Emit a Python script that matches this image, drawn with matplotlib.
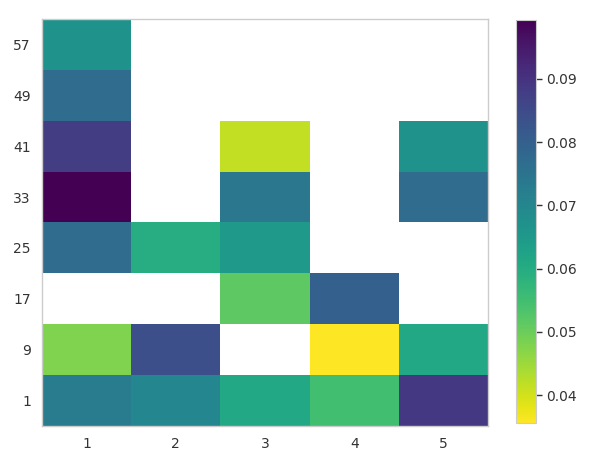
import numpy as np
import matplotlib
matplotlib.use("Agg")
import matplotlib.pyplot as plt

x_labels = [1, 2, 3, 4, 5]
y_labels = [1, 9, 17, 25, 33, 41, 49, 57]
nan = np.nan
# rows correspond to y_labels (bottom to top), columns to x_labels
values = [
    [0.073, 0.070, 0.061, 0.055, 0.089],   # 1
    [0.048, 0.084, nan,   0.0356, 0.061],  # 9
    [nan,   nan,   0.0515, 0.080, nan],    # 17
    [0.077, 0.0595, 0.065, nan,  nan],     # 25
    [0.0993, nan,  0.074, nan,   0.077],   # 33
    [0.088, nan,   0.0415, nan,  0.067],   # 41
    [0.077, nan,   nan,   nan,   nan],     # 49
    [0.067, nan,   nan,   nan,   nan],     # 57
]

Z = np.ma.masked_invalid(np.array(values, dtype=float))
xe = np.arange(len(x_labels) + 1) + 0.5
ye = np.array(y_labels + [y_labels[-1] + 8]) - 4

fig = plt.figure(figsize=(6.04, 4.61), dpi=100)
ax = fig.add_axes([42/604, 1 - 426/461, (488-42)/604, (426-19)/461])
cax = fig.add_axes([516/604, 1 - 423/461, 20/604, (423-20)/461])

mesh = ax.pcolormesh(xe, ye, Z, cmap="viridis_r", vmin=0.0356, vmax=0.0993)
ax.set_xlim(xe[0], xe[-1])
ax.set_ylim(ye[0], ye[-1])
ax.set_xticks(x_labels)
ax.set_yticks(y_labels)
ax.tick_params(length=0, labelsize=10, colors="#333333", pad=8)
for s in ax.spines.values():
    s.set_color("#cccccc")
    s.set_linewidth(1.0)

cb = fig.colorbar(mesh, cax=cax)
cb.set_ticks([0.04, 0.05, 0.06, 0.07, 0.08, 0.09])
cb.ax.tick_params(labelsize=10, colors="#333333", length=4, width=1)
cb.outline.set_edgecolor("#cccccc")

fig.savefig("out.png", dpi=100)
